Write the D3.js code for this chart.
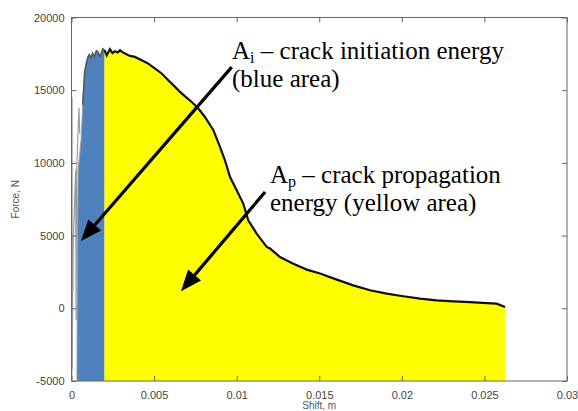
<!DOCTYPE html>
<html><head><meta charset="utf-8">
<script src="https://cdn.jsdelivr.net/npm/d3@7/dist/d3.min.js"></script>
<style>
html,body{margin:0;padding:0;background:#fff;overflow:hidden;}
svg{display:block;}
</style></head>
<body>
<script>
// ---------- data ----------
const xTicks = [0, 0.005, 0.01, 0.015, 0.02, 0.025, 0.03];
const xTickLabels = ["0", "0.005", "0.01", "0.015", "0.02", "0.025", "0.03"];
const yTicks = [-5000, 0, 5000, 10000, 15000, 20000];
const yTickLabels = ["-5000", "0", "5000", "10000", "15000", "20000"];

// crack initiation region (blue): left boundary + jagged top, shift in m, force in N
const initShift = [0.00033, 0.00035, 0.00040, 0.00058, 0.00068, 0.00080, 0.00092, 0.00100, 0.00107, 0.00118, 0.00128, 0.00139, 0.00150, 0.00159, 0.00170, 0.00178, 0.00190, 0.00200];
const initForce = [-5000, 4000, 9500, 11600, 14000, 16300, 16950, 17300, 17450, 17250, 17550, 17300, 17700, 17650, 17350, 17500, 17850, 17750];

// crack propagation region (yellow): force-shift curve after initiation
const propShift = [0.00200, 0.00213, 0.00233, 0.00248, 0.00263, 0.00280, 0.00294, 0.00310, 0.00324, 0.00354, 0.00384, 0.00425, 0.00465, 0.00506, 0.00546, 0.00586, 0.00627, 0.00657, 0.00700, 0.00728, 0.00768, 0.00808, 0.00859, 0.00899, 0.00929, 0.00960, 0.01000, 0.01040, 0.01070, 0.01121, 0.01182, 0.01202, 0.01262, 0.01343, 0.01424, 0.01505, 0.01606, 0.01706, 0.01807, 0.01908, 0.02009, 0.02110, 0.02211, 0.02312, 0.02412, 0.02514, 0.02574, 0.02625];
const propForce = [17750, 17400, 17820, 17550, 17680, 17600, 17750, 17600, 17520, 17360, 17290, 17060, 16830, 16490, 16150, 15690, 15230, 14880, 14450, 14190, 13740, 13160, 12250, 11100, 10180, 9030, 8120, 7200, 6050, 5140, 4220, 4110, 3530, 3070, 2660, 2390, 1970, 1580, 1240, 1010, 830, 670, 550, 480, 430, 360, 320, 90];

// raw oscillation trace at the very start (grey)
const oscShift = [0.00002, 0.00003, 0.00005, 0.00008, 0.00009, 0.00010, 0.00025, 0.00028, 0.00030, 0.00045, 0.00050];
const oscForce = [-4800, 14500, -4200, 3900, 1200, 4200, 9500, -800, 9000, 13800, 12000];

// annotations (data coordinates)
const annotations = [
  {main: "A", sub: "i", rest: " \u2013 crack initiation energy", line2: "(blue area)",
   textAt: [0.00972, 17163], from: [0.00970, 16587], to: [0.000575, 4636]},
  {main: "A", sub: "p", rest: " \u2013 crack propagation", line2: "energy (yellow area)",
   textAt: [0.01202, 8599], from: [0.01172, 8001], to: [0.00663, 1181]}
];

// ---------- drawing ----------
const W = 578, H = 411;
const plot = {left: 71.5, right: 567, top: 17.5, bottom: 381};

const svg = d3.select("body").append("svg").attr("width", W).attr("height", H);
const x = d3.scaleLinear().domain([0, 0.03]).range([plot.left, plot.right]);
const y = d3.scaleLinear().domain([-5000, 20000]).range([plot.bottom, plot.top]);

const initPts = initShift.map((s, i) => [s, initForce[i]]);
const propPts = propShift.map((s, i) => [s, propForce[i]]);
const oscPts = oscShift.map((s, i) => [s, oscForce[i]]);

const area = d3.area().x(d => x(d[0])).y0(y(-5000)).y1(d => y(d[1]));
const line = d3.line().x(d => x(d[0])).y(d => y(d[1]));

// blue polygon: boundary then down to base
const bluePoly = initPts.concat([[initShift[initShift.length - 1], -5000]]);
svg.append("path").attr("d", line(bluePoly) + "Z").attr("fill", "#4f81bd");

// yellow area
svg.append("path").attr("d", area(propPts)).attr("fill", "#ffff00");

// grey raw oscillation
svg.append("path").attr("d", line(oscPts)).attr("fill", "none")
  .attr("stroke", "#9a9a9a").attr("stroke-width", 1.2);
svg.append("path").attr("d", line(initPts.slice(0, 6))).attr("fill", "none")
  .attr("stroke", "#a0a0a0").attr("stroke-width", 1);

// jagged top of blue (dark grey) and black curve outline
svg.append("path").attr("d", line(initPts.slice(4))).attr("fill", "none")
  .attr("stroke", "#555").attr("stroke-width", 1.6);
svg.append("path").attr("d", line(propPts)).attr("fill", "none")
  .attr("stroke", "#111").attr("stroke-width", 2.2);

// frame
const axCol = "#666";
svg.append("rect").attr("x", plot.left).attr("y", plot.top)
  .attr("width", plot.right - plot.left).attr("height", plot.bottom - plot.top)
  .attr("fill", "none").attr("stroke", axCol).attr("stroke-width", 1);

const tickLen = 5;
const gx = svg.append("g").attr("transform", `translate(0,${plot.bottom})`)
  .call(d3.axisBottom(x).tickValues(xTicks).tickSize(-tickLen).tickPadding(10)
    .tickFormat((d, i) => xTickLabels[i]));
const gxTop = svg.append("g").attr("transform", `translate(0,${plot.top})`)
  .call(d3.axisTop(x).tickValues(xTicks).tickSize(-tickLen).tickFormat(""));
const gy = svg.append("g").attr("transform", `translate(${plot.left},0)`)
  .call(d3.axisLeft(y).tickValues(yTicks).tickSize(-tickLen).tickPadding(7)
    .tickFormat((d, i) => yTickLabels[i]));
const gyR = svg.append("g").attr("transform", `translate(${plot.right},0)`)
  .call(d3.axisRight(y).tickValues(yTicks).tickSize(-tickLen).tickFormat(""));

[gx, gxTop, gy, gyR].forEach(g => {
  g.select(".domain").remove();
  g.selectAll(".tick line").attr("stroke", axCol);
  g.selectAll("text").attr("fill", "#444")
    .style("font-family", "'Liberation Sans', Arial, sans-serif").style("font-size", "11px");
});

// axis titles
svg.append("text").attr("x", (plot.left + plot.right) / 2).attr("y", 409)
  .attr("text-anchor", "middle").attr("fill", "#555")
  .style("font-family", "'Liberation Sans', Arial, sans-serif").style("font-size", "10px")
  .text("Shift, m");
svg.append("text").attr("transform", `translate(19,${(plot.top + plot.bottom) / 2}) rotate(-90)`)
  .attr("text-anchor", "middle").attr("fill", "#555")
  .style("font-family", "'Liberation Sans', Arial, sans-serif").style("font-size", "10px")
  .text("Force, N");

// annotations
const serif = "'Liberation Serif', 'Times New Roman', serif";
annotations.forEach(a => {
  const x1 = x(a.from[0]), y1 = y(a.from[1]);
  const x2 = x(a.to[0]), y2 = y(a.to[1]);
  const ang = Math.atan2(y2 - y1, x2 - x1);
  const hl = 21, hw = 8.5;
  const bx = x2 - hl * Math.cos(ang), by = y2 - hl * Math.sin(ang);
  svg.append("line").attr("x1", x1).attr("y1", y1).attr("x2", bx).attr("y2", by)
    .attr("stroke", "#000").attr("stroke-width", 3.2);
  const px = -Math.sin(ang), py = Math.cos(ang);
  svg.append("path")
    .attr("d", `M${x2},${y2}L${bx + hw * px},${by + hw * py}L${bx - hw * px},${by - hw * py}Z`)
    .attr("fill", "#000");

  const tx = x(a.textAt[0]), ty = y(a.textAt[1]);
  const t = svg.append("text").attr("x", tx).attr("y", ty)
    .style("font-family", serif).style("font-size", "25px").attr("fill", "#000");
  t.append("tspan").text(a.main);
  t.append("tspan").attr("dy", 4).style("font-size", "16px").text(a.sub);
  t.append("tspan").attr("dy", -4).text(a.rest);
  svg.append("text").attr("x", tx).attr("y", ty + 28)
    .style("font-family", serif).style("font-size", "25px").attr("fill", "#000")
    .text(a.line2);
});
</script>
</body></html>
